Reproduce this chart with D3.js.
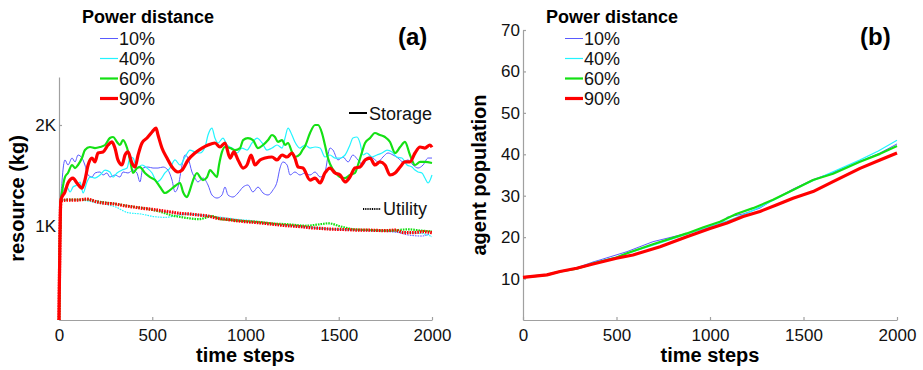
<!DOCTYPE html>
<html>
<head>
<meta charset="utf-8">
<script src="https://cdn.jsdelivr.net/npm/d3@7"></script>
<style>
  body { margin: 0; background: #fff; }
  svg { display: block; font-family: "Liberation Sans", Arial, Helvetica, sans-serif; }
</style>
</head>
<body>
<svg id="chart" width="923" height="370"></svg>
<script>
// ---- data -------------------------------------------------------------
const seriesNames = ["10%", "40%", "60%", "90%"];
const timeTicks = [0, 500, 1000, 1500, 2000];
const resourceTicks = [1000, 2000];
const resourceTickLabels = ["1K", "2K"];
const populationTicks = [10, 20, 30, 40, 50, 60, 70];

// stored resource (kg) per power-distance setting, [time step, kg]
const storage10 = [[0,70],[10,1260],[16,1436],[32,1654],[48,1604],[70,1673],[86,1634],[102,1703],[123,1673],[139,1604],[156,1505],[177,1485],[193,1525],[220,1535],[236,1505],[257,1525],[273,1485],[300,1505],[327,1485],[343,1535],[370,1525],[397,1554],[418,1525],[434,1436],[450,1574],[477,1584],[504,1574],[531,1574],[558,1584],[584,1554],[606,1455],[622,1337],[638,1386],[660,1604],[676,1703],[692,1673],[713,1535],[729,1475],[745,1436],[772,1475],[799,1406],[820,1307],[847,1277],[874,1307],[890,1386],[906,1307],[933,1287],[960,1327],[987,1386],[1013,1406],[1040,1337],[1067,1386],[1094,1327],[1121,1307],[1147,1356],[1169,1436],[1185,1574],[1201,1634],[1223,1604],[1239,1505],[1265,1535],[1292,1505],[1319,1525],[1346,1505],[1373,1535],[1400,1485],[1426,1535],[1453,1772],[1469,1752],[1496,1654],[1523,1683],[1550,1634],[1576,1703],[1603,1654],[1630,1604],[1657,1683],[1684,1673],[1710,1634],[1737,1683],[1764,1723],[1791,1703],[1818,1673],[1845,1634],[1871,1654],[1898,1604],[1925,1574],[1952,1604],[1979,1673],[2000,1673]];
const storage40 = [[0,70],[10,1260],[21,1337],[43,1386],[59,1337],[75,1386],[96,1406],[113,1436],[129,1327],[150,1436],[166,1485],[193,1475],[220,1505],[247,1554],[273,1535],[290,1485],[311,1525],[338,1554],[365,1574],[381,1683],[397,1673],[418,1574],[445,1604],[472,1574],[499,1525],[525,1436],[542,1455],[568,1525],[595,1574],[622,1654],[649,1604],[676,1683],[702,1752],[729,1733],[756,1723],[783,1782],[799,1901],[820,1970],[836,1871],[853,1822],[879,1871],[901,1802],[928,1772],[955,1723],[981,1772],[1008,1752],[1035,1822],[1062,1871],[1089,1822],[1115,1752],[1142,1772],[1169,1802],[1196,1772],[1212,1871],[1228,1970],[1249,1901],[1265,1832],[1292,1772],[1319,1802],[1346,1772],[1373,1782],[1400,1772],[1426,1683],[1453,1703],[1480,1673],[1507,1673],[1534,1703],[1560,1802],[1576,1871],[1598,1881],[1614,1822],[1630,1703],[1651,1723],[1678,1683],[1705,1703],[1732,1723],[1759,1752],[1786,1733],[1812,1683],[1839,1673],[1866,1604],[1893,1584],[1909,1554],[1925,1535],[1946,1525],[1962,1475],[1979,1426],[2000,1505]];
const storage60 = [[0,70],[10,1260],[16,1337],[32,1485],[48,1525],[70,1604],[86,1574],[102,1604],[123,1673],[139,1752],[166,1782],[193,1772],[220,1782],[247,1802],[273,1871],[290,1881],[311,1832],[327,1802],[343,1851],[365,1772],[381,1654],[397,1525],[418,1574],[434,1584],[461,1525],[488,1485],[515,1455],[542,1386],[568,1327],[595,1356],[622,1396],[649,1426],[665,1337],[686,1287],[702,1356],[719,1455],[740,1525],[756,1485],[772,1455],[794,1485],[810,1554],[826,1525],[847,1485],[858,1604],[874,1733],[890,1782],[917,1772],[944,1752],[971,1772],[987,1851],[1013,1871],[1040,1851],[1067,1772],[1094,1802],[1121,1851],[1142,1901],[1158,1881],[1174,1832],[1196,1851],[1212,1802],[1228,1822],[1249,1733],[1265,1683],[1292,1710],[1308,1760],[1319,1790],[1346,1921],[1373,2000],[1389,2000],[1410,1921],[1426,1802],[1442,1673],[1464,1574],[1480,1535],[1507,1485],[1534,1475],[1560,1505],[1587,1525],[1603,1604],[1625,1733],[1641,1822],[1668,1871],[1694,1921],[1721,1901],[1748,1881],[1775,1832],[1802,1723],[1829,1782],[1855,1832],[1882,1703],[1909,1604],[1936,1634],[1962,1634],[2000,1624]];
const storage90 = [[0,70],[10,1260],[32,1337],[48,1426],[75,1475],[96,1426],[123,1376],[139,1455],[156,1604],[177,1673],[193,1634],[209,1723],[236,1733],[263,1802],[284,1832],[300,1772],[316,1654],[338,1604],[354,1703],[370,1733],[391,1624],[408,1584],[424,1703],[445,1822],[472,1871],[499,1931],[520,1970],[531,1901],[552,1772],[579,1673],[606,1584],[638,1535],[660,1554],[692,1654],[729,1723],[767,1772],[799,1802],[836,1822],[863,1782],[890,1822],[917,1673],[938,1733],[960,1654],[987,1574],[1008,1604],[1030,1703],[1051,1604],[1078,1654],[1105,1673],[1142,1683],[1169,1654],[1196,1703],[1223,1683],[1249,1723],[1265,1673],[1282,1584],[1308,1574],[1346,1455],[1373,1475],[1400,1426],[1426,1525],[1453,1574],[1480,1525],[1507,1505],[1534,1436],[1560,1485],[1587,1574],[1614,1584],[1641,1654],[1668,1673],[1694,1604],[1721,1634],[1748,1604],[1775,1505],[1802,1525],[1829,1584],[1855,1634],[1882,1634],[1909,1723],[1936,1782],[1962,1772],[1989,1802],[2000,1780]];

// utility (kg), [time step, kg]
const utility10 = [[0,70],[10,1250],[50,1258],[100,1260],[150,1262],[200,1250],[250,1235],[300,1222],[350,1205],[400,1192],[450,1178],[500,1166],[550,1150],[600,1136],[650,1122],[700,1116],[750,1105],[800,1095],[850,1078],[900,1062],[950,1050],[1000,1040],[1050,1032],[1100,1024],[1150,1014],[1200,1004],[1250,996],[1300,988],[1350,980],[1400,972],[1450,966],[1500,962],[1550,958],[1600,955],[1650,952],[1700,950],[1766,944],[1820,935],[1873,911],[1945,901],[2000,934]];
const utility40 = [[0,70],[10,1250],[50,1255],[100,1255],[150,1250],[200,1230],[250,1215],[300,1191],[370,1132],[440,1119],[515,1092],[570,1086],[620,1099],[690,1119],[765,1109],[870,1086],[960,1066],[1050,1050],[1140,1025],[1230,1008],[1320,995],[1410,978],[1500,968],[1590,962],[1680,955],[1770,950],[1870,935],[1945,927],[2000,894]];
const utility60 = [[0,70],[10,1250],[50,1262],[100,1262],[150,1262],[200,1245],[250,1232],[300,1220],[350,1205],[400,1190],[450,1178],[500,1160],[550,1138],[600,1108],[650,1090],[700,1076],[750,1068],[800,1090],[820,1099],[870,1066],[920,1060],[960,1053],[1050,1043],[1100,1035],[1140,1027],[1230,1017],[1320,1003],[1410,1020],[1445,1027],[1515,993],[1587,967],[1677,960],[1766,954],[1873,967],[1945,954],[2000,947]];
const utility90 = [[0,70],[10,1250],[50,1257],[100,1257],[150,1267],[200,1240],[250,1225],[300,1218],[350,1201],[400,1188],[450,1175],[500,1165],[550,1152],[600,1139],[650,1125],[700,1119],[750,1109],[800,1099],[850,1076],[900,1066],[950,1053],[1000,1043],[1050,1036],[1100,1027],[1150,1017],[1200,1007],[1250,1000],[1300,993],[1350,983],[1400,977],[1450,970],[1500,967],[1550,964],[1600,960],[1650,960],[1700,957],[1750,954],[1800,960],[1850,934],[1900,934],[1950,944],[2000,934]];

// agent population, [time step, agents]
const population10 = [[0,10.3],[128,10.9],[198,11.7],[287,12.6],[374,14.0],[412,14.5],[556,16.5],[695,18.9],[876,20.9],[1053,23.0],[1091,24.8],[1177,25.6],[1267,27.0],[1337,29.0],[1444,31.6],[1551,33.9],[1658,35.6],[1802,38.3],[1909,40.3],[2000,42.5]];
const population40 = [[0,10.3],[128,10.9],[198,11.7],[287,12.5],[374,13.8],[500,15.2],[600,16.7],[733,18.6],[876,20.7],[1000,22.6],[1100,24.0],[1200,25.8],[1300,28.0],[1400,30.3],[1500,32.6],[1600,34.6],[1700,36.6],[1800,38.6],[1900,40.8],[2000,43.4]];
const population60 = [[0,10.3],[128,10.9],[198,11.7],[287,12.4],[374,13.6],[500,15.1],[556,16.1],[695,18.3],[876,20.9],[965,22.4],[1053,23.7],[1140,25.6],[1230,27.0],[1337,29.0],[1444,31.4],[1551,33.8],[1658,35.3],[1802,38.2],[1909,40.1],[2000,42.0]];
const population90 = [[0,10.3],[128,10.9],[198,11.7],[287,12.5],[374,13.5],[500,14.9],[588,15.7],[733,17.7],[876,20.1],[1000,22.1],[1091,23.4],[1177,25.0],[1267,26.2],[1358,27.8],[1444,29.4],[1551,31.0],[1658,33.4],[1802,36.6],[1909,38.6],[2000,40.3]];

const storageSeries = [storage10, storage40, storage60, storage90];
const utilitySeries = [utility10, utility40, utility60, utility90];
const populationSeries = [population10, population40, population60, population90];

// ---- styling -----------------------------------------------------------
const colors = ["#5a5aff", "#22f4ff", "#14e014", "#ff0000"];
const widths = [1, 1.2, 2.2, 3.2];
const axisGray = "#a0a0a0";

const svg = d3.select("#chart");
svg.append("rect").attr("width", 923).attr("height", 370).attr("fill", "#fff");

function styleAxis(g) {
  g.select(".domain").attr("stroke", axisGray).attr("stroke-width", 1.2);
  g.selectAll(".tick line").attr("stroke", axisGray).attr("stroke-width", 1.2);
  g.selectAll(".tick text").attr("font-size", 17).attr("fill", "#111")
    .attr("font-family", "'Liberation Sans', Arial, sans-serif");
}

function drawAxes(x, y, yTicks, yFormat, xLabel, yLabel, yLabelX) {
  const [x0, x1] = x.range();
  const [yb, yt] = y.range();
  svg.append("g").attr("transform", `translate(0,${yb})`)
    .call(d3.axisBottom(x).tickValues(timeTicks).tickFormat(d3.format("d"))
      .tickSizeInner(-3).tickSizeOuter(0).tickPadding(9))
    .call(styleAxis);
  svg.append("g").attr("transform", `translate(${x0},0)`)
    .call(d3.axisLeft(y).tickValues(yTicks).tickFormat(yFormat)
      .tickSizeInner(-3).tickSizeOuter(0).tickPadding(3))
    .call(styleAxis);
  svg.append("text").attr("x", (x0 + x1) / 2).attr("y", 362)
    .attr("text-anchor", "middle").attr("font-weight", "bold").attr("font-size", 20)
    .text(xLabel);
  svg.append("text")
    .attr("transform", `translate(${yLabelX},${(yb + yt) / 2}) rotate(-90)`)
    .attr("text-anchor", "middle").attr("font-weight", "bold").attr("font-size", 20)
    .text(yLabel);
}

function drawLegend(titleX, lineX, top) {
  svg.append("text").attr("x", titleX).attr("y", top)
    .attr("font-weight", "bold").attr("font-size", 18).text("Power distance");
  seriesNames.forEach((name, i) => {
    const base = top + 22 + i * 20;
    svg.append("line").attr("x1", lineX).attr("x2", lineX + 18)
      .attr("y1", base - 6.5).attr("y2", base - 6.5)
      .attr("stroke", colors[i]).attr("stroke-width", widths[i]);
    svg.append("text").attr("x", lineX + 19).attr("y", base)
      .attr("font-size", 18).attr("fill", "#111").text(name);
  });
}

// ---- panel (a): resource ---------------------------------------------
const xA = d3.scaleLinear().domain([0, 2000]).range([59, 432]);
const yA = d3.scaleLinear().domain([70, 2475]).range([320, 77]);
drawAxes(xA, yA, resourceTicks, (d, i) => resourceTickLabels[i], "time steps", "resource (kg)", 24);

const lineA = d3.line().x(d => xA(d[0])).y(d => yA(d[1])).curve(d3.curveMonotoneX);
const gA = svg.append("g").attr("fill", "none").attr("stroke-linejoin", "round");
utilitySeries.forEach((s, i) => {
  gA.append("path").attr("d", lineA(s)).attr("stroke", colors[i])
    .attr("stroke-width", widths[i]).attr("stroke-dasharray", "1.6,1");
});
storageSeries.forEach((s, i) => {
  gA.append("path").attr("d", lineA(s)).attr("stroke", colors[i])
    .attr("stroke-width", widths[i]);
});

drawLegend(82, 100, 23);
svg.append("text").attr("x", 398).attr("y", 45).attr("font-weight", "bold")
  .attr("font-size", 24).text("(a)");

svg.append("line").attr("x1", 349).attr("x2", 367).attr("y1", 113).attr("y2", 113)
  .attr("stroke", "#000").attr("stroke-width", 2);
svg.append("text").attr("x", 369).attr("y", 120).attr("font-size", 18).attr("fill", "#111").text("Storage");
svg.append("line").attr("x1", 363).attr("x2", 381).attr("y1", 209).attr("y2", 209)
  .attr("stroke", "#000").attr("stroke-width", 2).attr("stroke-dasharray", "1,0.8");
svg.append("text").attr("x", 383).attr("y", 215).attr("font-size", 18).attr("fill", "#111").text("Utility");

// ---- panel (b): agent population -------------------------------------
const xB = d3.scaleLinear().domain([0, 2000]).range([523, 897]);
const yB = d3.scaleLinear().domain([0, 70]).range([320, 30]);
drawAxes(xB, yB, populationTicks, d3.format("d"), "time steps", "agent population", 486);

const lineB = d3.line().x(d => xB(d[0])).y(d => yB(d[1]));
const gB = svg.append("g").attr("fill", "none").attr("stroke-linejoin", "round");
populationSeries.forEach((s, i) => {
  gB.append("path").attr("d", lineB(s)).attr("stroke", colors[i])
    .attr("stroke-width", widths[i]);
});

drawLegend(546, 565, 23);
svg.append("text").attr("x", 860).attr("y", 45).attr("font-weight", "bold")
  .attr("font-size", 24).text("(b)");
</script>
</body>
</html>
